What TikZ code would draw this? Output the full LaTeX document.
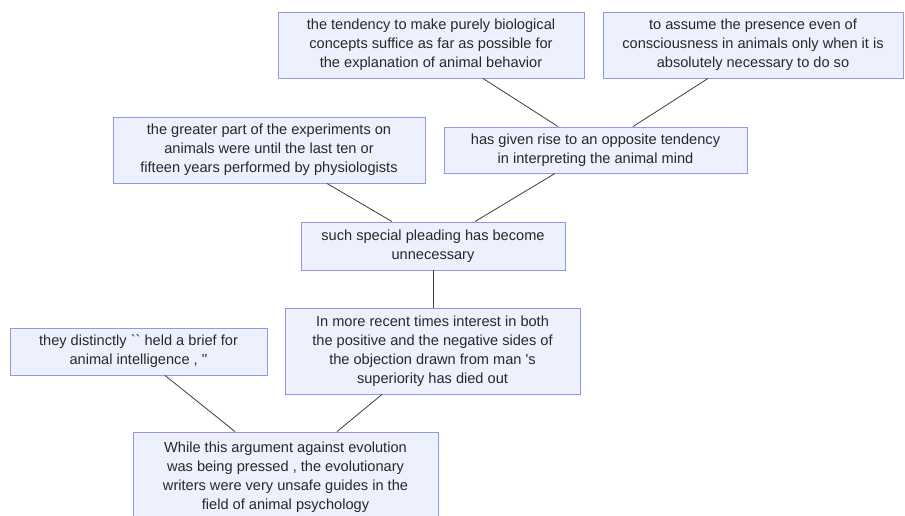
\documentclass[tikz,border=0pt]{standalone}
\usepackage{fontspec}
\newfontfamily\lsans{Liberation Sans}
\definecolor{boxfill}{RGB}{236,241,253}
\definecolor{boxline}{RGB}{150,150,228}
\definecolor{txt}{RGB}{40,40,40}
\definecolor{edge}{RGB}{60,60,60}
\begin{document}
\begin{tikzpicture}[x=1pt,y=-1pt,
  cbox/.style={draw=boxline,fill=boxfill,line width=0.9pt,inner sep=0pt,align=center,
    text=txt,font=\lsans\fontsize{14.6}{19}\selectfont},
  link/.style={draw=edge,line width=0.8pt}]
\useasboundingbox (0,0) rectangle (905,515);
\begin{scope}
\clip (0,0) rectangle (905,515);
\node[cbox,minimum width=306pt,minimum height=66pt] (A) at (431,45) {the tendency to make purely biological\\concepts suffice as far as possible for\\the explanation of animal behavior};
\node[cbox,minimum width=300pt,minimum height=66pt] (B) at (753,45) {to assume the presence even of\\consciousness in animals only when it is\\absolutely necessary to do so};
\node[cbox,minimum width=312pt,minimum height=66pt] (C) at (269,150) {the greater part of the experiments on\\animals were until the last ten or\\fifteen years performed by physiologists};
\node[cbox,minimum width=303pt,minimum height=46pt] (D) at (595.5,150) {has given rise to an opposite tendency\\in interpreting the animal mind};
\node[cbox,minimum width=264pt,minimum height=48pt] (E) at (433,246) {such special pleading has become\\unnecessary};
\node[cbox,minimum width=257pt,minimum height=47pt] (F) at (138.5,351.5) {they distinctly `` held a brief for\\animal intelligence , ''};
\node[cbox,minimum width=295pt,minimum height=86pt] (G) at (432.5,351) {In more recent times interest in both\\the positive and the negative sides of\\the objection drawn from man 's\\superiority has died out};
\node[cbox,minimum width=305pt,minimum height=90pt] (H) at (285.5,477) {While this argument against evolution\\was being pressed , the evolutionary\\writers were very unsafe guides in the\\field of animal psychology};
\end{scope}
\draw[link] ([xshift=52pt]A.south) -- ([xshift=-37.5pt]D.north);
\draw[link] ([xshift=-45pt]B.south) -- ([xshift=37.5pt]D.north);
\draw[link] ([xshift=58pt]C.south) -- ([xshift=-41pt]E.north);
\draw[link] ([xshift=-40.5pt]D.south) -- ([xshift=42pt]E.north);
\draw[link] (E.south) -- (E.south |- G.north);
\draw[link] ([xshift=26.5pt]F.south) -- ([xshift=-50.5pt]H.north);
\draw[link] ([xshift=-50.5pt]G.south) -- ([xshift=51.5pt]H.north);
\end{tikzpicture}
\end{document}
